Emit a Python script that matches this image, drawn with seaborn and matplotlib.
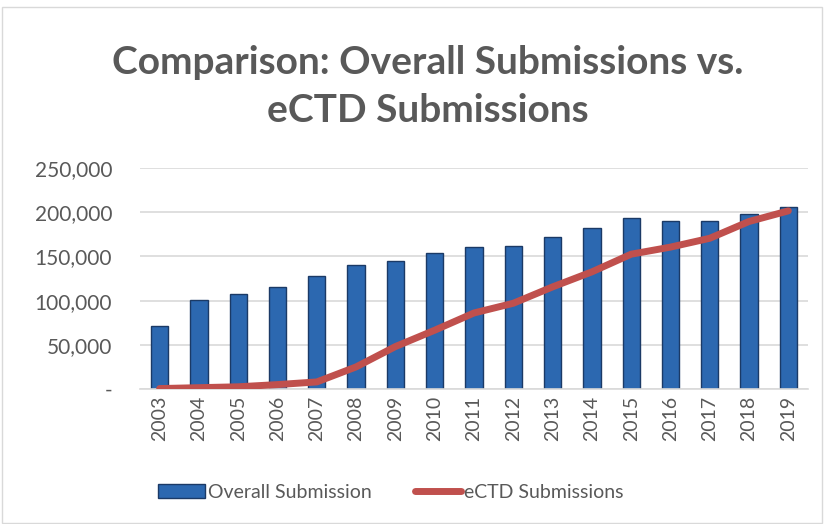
"""
Overall submissions vs eCTD submissions, 2003-2019 (bar + line combo).
"""
import numpy as np
import pandas as pd
import matplotlib
matplotlib.use("Agg")
import matplotlib.pyplot as plt
import seaborn as sns
from matplotlib.patches import Patch, Rectangle
from matplotlib.lines import Line2D
from matplotlib.ticker import FuncFormatter

# values
years = [str(y) for y in range(2003, 2020)]
overall = [71000, 100500, 108000, 115000, 127500, 140000, 144500, 153500,
           161000, 162000, 172000, 182500, 193500, 190500, 190500, 197500, 206000]
ectd = [500, 1500, 2500, 5000, 8000, 25000, 48000, 66500,
        86000, 97000, 115500, 132500, 152500, 160500, 170500, 189500, 201500]

df = pd.DataFrame({"year": years, "overall": overall, "ectd": ectd})

GREY = "#595959"
BAR = "#2C68B0"
EDGE = "#1B3A66"
LINE = "#C0504D"

sns.set_theme(style="white")
plt.rcParams["font.family"] = ["Lato", "DejaVu Sans"]

fig = plt.figure(figsize=(8.26, 5.24), dpi=100)
ax = fig.add_axes([140 / 826, 1 - 389 / 524, 668 / 826, 221 / 524])

sns.barplot(data=df, x="year", y="overall", color=BAR, width=0.44,
            edgecolor=EDGE, linewidth=1.0, saturation=1, ax=ax, zorder=2)
sns.lineplot(data=df, x="year", y="ectd", color=LINE, linewidth=5,
             solid_capstyle="round", solid_joinstyle="round", ax=ax, zorder=3)

ax.set_xlim(-0.5, len(years) - 0.5)
ax.set_ylim(0, 250000)
ax.set_yticks(np.arange(0, 250001, 50000))
ax.yaxis.set_major_formatter(FuncFormatter(lambda v, p: "-" if v == 0 else f"{int(v):,}"))
ax.grid(axis="y", color="#D9D9D9", linewidth=1.2, zorder=0)
ax.set_axisbelow(True)
ax.set_xlabel("")
ax.set_ylabel("")
for s in ["top", "right", "left"]:
    ax.spines[s].set_visible(False)
ax.spines["bottom"].set_color("#D9D9D9")
ax.spines["bottom"].set_linewidth(1.2)
ax.tick_params(axis="x", rotation=90, labelsize=14, colors=GREY, length=0, pad=5)
ax.tick_params(axis="y", labelsize=15, colors=GREY, length=0, pad=20)

fig.text(0.518, 1 - 62 / 524, "Comparison: Overall Submissions vs.",
         ha="center", va="center", fontsize=28, fontweight="bold", color=GREY)
fig.text(0.518, 1 - 110 / 524, "eCTD Submissions",
         ha="center", va="center", fontsize=28, fontweight="bold", color=GREY)

handles = [Patch(facecolor=BAR, edgecolor=EDGE),
           Line2D([0], [0], color=LINE, linewidth=5, solid_capstyle="round")]
fig.legend(handles, ["Overall Submission", "eCTD Submissions"], loc="center",
           bbox_to_anchor=(391 / 826, 1 - 492 / 524), ncol=2, frameon=False,
           fontsize=14, labelcolor=GREY, handlelength=2.4, handletextpad=0.15,
           columnspacing=2.2)

fig.add_artist(Rectangle((0.002, 0.002), 0.993, 0.985, transform=fig.transFigure,
                         fill=False, edgecolor="#D9D9D9", linewidth=1))

fig.savefig("out.png", dpi=100)
